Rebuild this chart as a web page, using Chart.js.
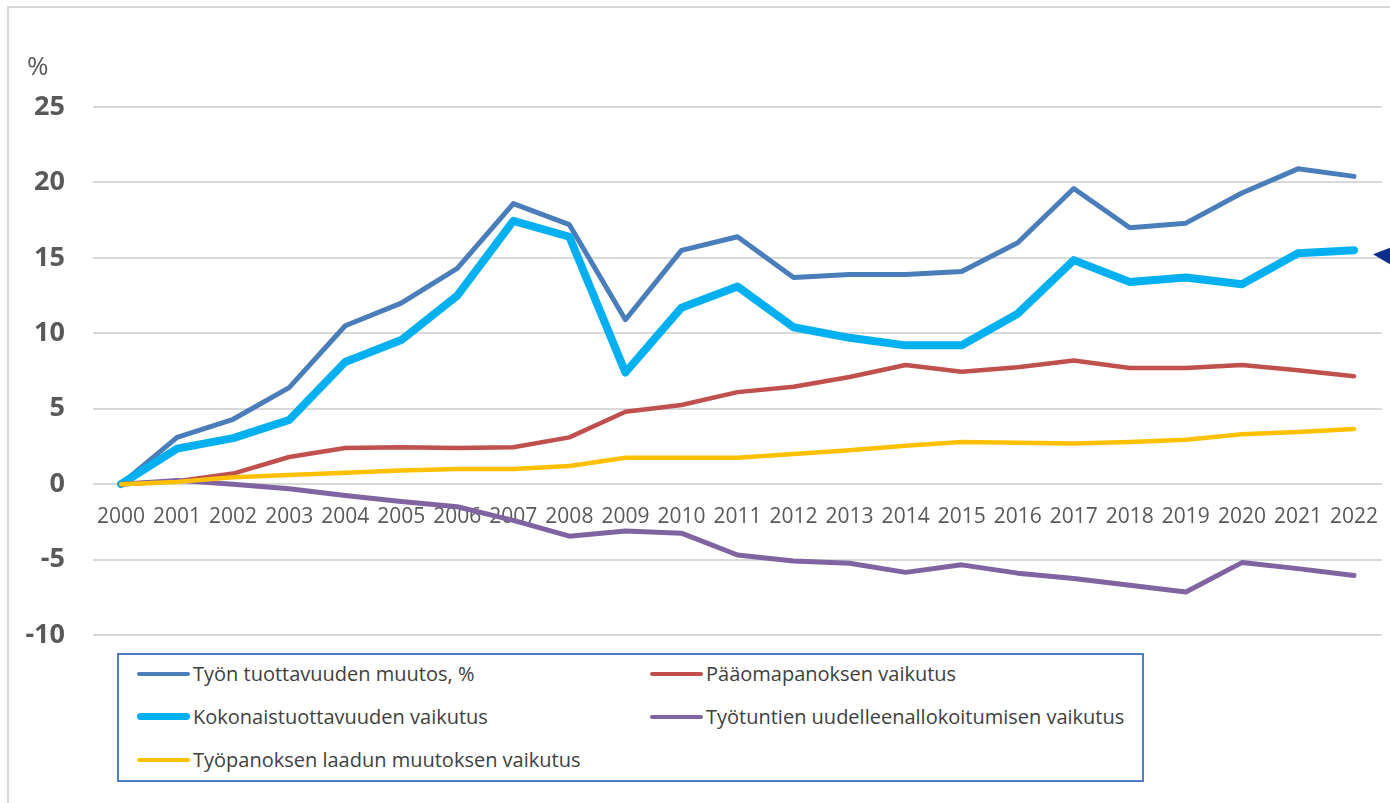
<!DOCTYPE html>
<html lang="fi">
<head>
<meta charset="UTF-8">
<title>Työn tuottavuuden muutos</title>
<script src="https://cdn.jsdelivr.net/npm/chart.js@4/dist/chart.umd.min.js"></script>
<style>
    html, body { margin: 0; padding: 0; background: #fff; }
    #wrap { position: relative; width: 1390px; height: 803px; overflow: hidden; }
    #frame {
        position: absolute; left: 7px; top: 6px; width: 1420px; height: 830px;
        border: 2px solid #d9d9d9; box-sizing: border-box; pointer-events: none;
    }
    #chart { position: absolute; left: 0; top: 0; }
    #legend {
        position: absolute; left: 117px; top: 653px; width: 1027px; height: 129px;
        border: 2px solid #4f7ec1; box-sizing: border-box; background: #fff;
        font-family: "Open Sans", sans-serif; font-size: 20px; color: #404040;
    }
    #legend ul {
        list-style: none; margin: 0; padding: 0 0 0 18px; position: relative; top: -3px;
        display: grid; grid-template-columns: 513px 1fr; grid-auto-rows: 43px;
    }
    #legend li { display: flex; align-items: center; white-space: nowrap; }
    #legend .swatch { display: inline-block; width: 53px; border-radius: 4px; margin-right: 3px; }
</style>
</head>
<body>
<div id="wrap">
    <canvas id="chart" width="1390" height="803"></canvas>
    <div id="frame"></div>
    <div id="legend"><ul></ul></div>
</div>
<script>
//Data luettu kuvasta (prosenttia, kumulatiivinen muutos vuodesta 2000).
const years = ["2000", "2001", "2002", "2003", "2004", "2005", "2006", "2007", "2008", "2009", "2010", "2011",
    "2012", "2013", "2014", "2015", "2016", "2017", "2018", "2019", "2020", "2021", "2022"];

const tyonTuottavuus = [0, 3.1, 4.3, 6.4, 10.5, 12.0, 14.3, 18.6, 17.2, 10.9, 15.5, 16.4,
    13.7, 13.9, 13.9, 14.1, 16.0, 19.6, 17.0, 17.3, 19.3, 20.9, 20.4];

const kokonaistuottavuus = [0, 2.35, 3.05, 4.25, 8.1, 9.55, 12.5, 17.45, 16.4, 7.4, 11.7, 13.1,
    10.4, 9.7, 9.2, 9.2, 11.3, 14.85, 13.4, 13.7, 13.25, 15.3, 15.5];

const paaomapanos = [0, 0.2, 0.7, 1.8, 2.4, 2.45, 2.4, 2.45, 3.1, 4.8, 5.25, 6.1,
    6.45, 7.1, 7.9, 7.45, 7.75, 8.2, 7.7, 7.7, 7.9, 7.55, 7.15];

const tyotuntienAllokaatio = [0, 0.25, 0, -0.3, -0.75, -1.15, -1.5, -2.4, -3.45, -3.1, -3.25, -4.7,
    -5.1, -5.25, -5.85, -5.35, -5.9, -6.25, -6.7, -7.15, -5.2, -5.6, -6.05];

const tyopanoksenLaatu = [0, 0.15, 0.45, 0.6, 0.75, 0.9, 1.0, 1.0, 1.2, 1.75, 1.75, 1.75,
    2.0, 2.25, 2.55, 2.8, 2.75, 2.7, 2.8, 2.95, 3.3, 3.45, 3.65];

const yTicks = [-10, -5, 0, 5, 10, 15, 20, 25];

//Selitteen järjestys riveittäin (sarakkeet kuten kuvassa).
const legendOrder = [0, 2, 1, 3, 4];

/**Piirtää %-merkin ja nuolen oikeaan reunaan.
 * @type {Object}
 */
const extrasPlugin = {
    id: "extras",
    afterDraw(chart) {
        const ctx = chart.ctx;
        ctx.save();
        ctx.font = "26px 'Open Sans'";
        ctx.fillStyle = "#595959";
        ctx.textAlign = "left";
        ctx.textBaseline = "middle";
        ctx.fillText("%", 27, 68);

        //Nuoli osoittaa kokonaistuottavuuden viimeiseen arvoon.
        const meta = chart.getDatasetMeta(1);
        const last = meta.data[meta.data.length - 1];
        const tipX = last.x + 19;
        const tipY = last.y + 4;
        ctx.fillStyle = "#0b2d8e";
        ctx.beginPath();
        ctx.moveTo(tipX, tipY);
        ctx.lineTo(tipX + 26, tipY - 10);
        ctx.lineTo(tipX + 26, tipY + 15);
        ctx.closePath();
        ctx.fill();
        ctx.restore();
    }
};

/**Luo viivadiagrammin ja sen selitteen.
 * @function
 */
function createLineChart() {
    const ctx = document.getElementById("chart");

    const series = [
        { label: "Työn tuottavuuden muutos, %", data: tyonTuottavuus, color: "#4a7ebb", width: 5 },
        { label: "Kokonaistuottavuuden vaikutus", data: kokonaistuottavuus, color: "#00b0f0", width: 8 },
        { label: "Pääomapanoksen vaikutus", data: paaomapanos, color: "#c0504d", width: 4.5 },
        { label: "Työtuntien uudelleenallokoitumisen vaikutus", data: tyotuntienAllokaatio, color: "#8064a2", width: 5 },
        { label: "Työpanoksen laadun muutoksen vaikutus", data: tyopanoksenLaatu, color: "#ffc000", width: 4.5 }
    ];

    const chart = new Chart(ctx, {
        type: "line",
        data: {
            labels: years,
            datasets: series.map((s, i) => ({
                label: s.label,
                data: s.data,
                borderColor: s.color,
                backgroundColor: s.color,
                borderWidth: s.width,
                borderCapStyle: "round",
                borderJoinStyle: "round",
                pointRadius: 0,
                tension: 0,
                order: series.length - 1 - i
            }))
        },
        options: {
            responsive: false,
            animation: false,
            layout: { padding: { top: 107, bottom: 168, left: 0, right: 0 } },
            plugins: {
                legend: { display: false },
                tooltip: { enabled: false }
            },
            scales: {
                x: {
                    position: { y: 0 },
                    offset: true,
                    grid: { display: false },
                    border: { display: false },
                    ticks: {
                        color: "#595959",
                        font: { family: "Open Sans", size: 21 },
                        padding: 12,
                        maxRotation: 0,
                        autoSkip: false
                    }
                },
                y: {
                    min: -10,
                    max: 25,
                    afterBuildTicks: scale => { scale.ticks = yTicks.map(v => ({ value: v })); },
                    afterFit: scale => { scale.width = 93; },
                    grid: { color: "#d9d9d9", lineWidth: 2, drawTicks: false },
                    border: { display: false },
                    ticks: {
                        color: "#595959",
                        font: { family: "Open Sans", size: 27, weight: "bold" },
                        padding: 28
                    }
                }
            }
        },
        plugins: [extrasPlugin]
    });

    //Selite: kaksi saraketta kehyksen sisällä.
    const list = document.querySelector("#legend ul");
    legendOrder.forEach(idx => {
        const s = series[idx];
        const li = document.createElement("li");
        const sw = document.createElement("span");
        sw.className = "swatch";
        sw.style.background = s.color;
        sw.style.height = Math.max(4, s.width - 1) + "px";
        li.appendChild(sw);
        li.appendChild(document.createTextNode(s.label));
        list.appendChild(li);
    });

    return chart;
}

createLineChart();
</script>
</body>
</html>
